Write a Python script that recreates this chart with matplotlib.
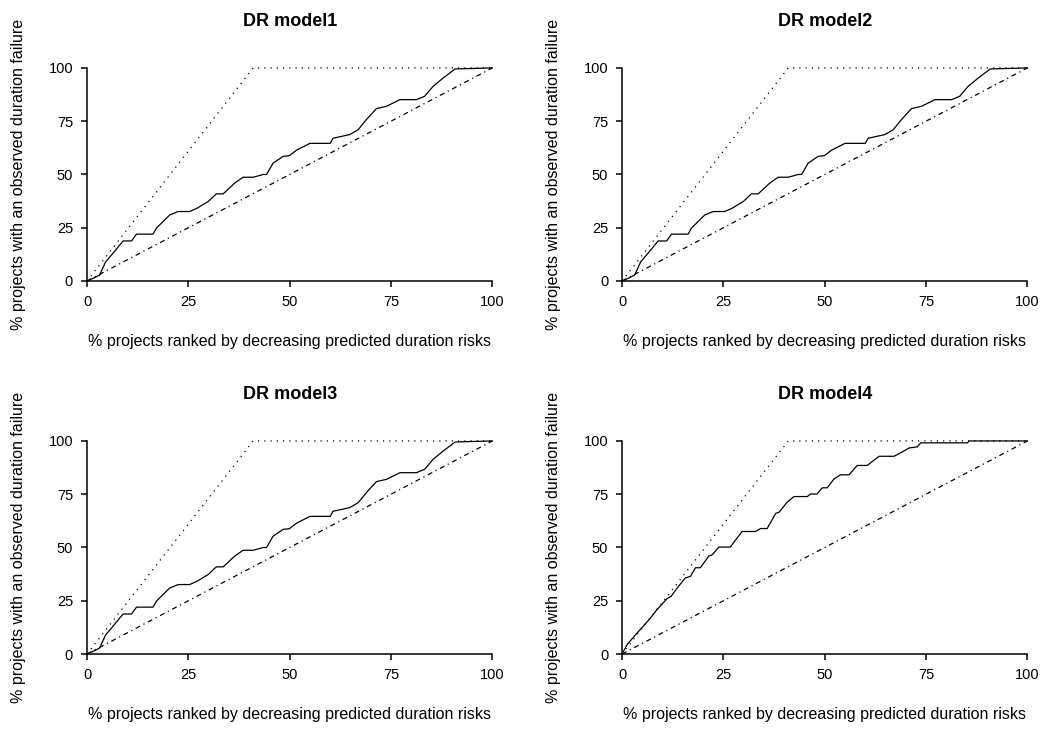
import matplotlib
matplotlib.use("Agg")
import matplotlib.pyplot as plt

plt.rcParams['font.family'] = ['Liberation Sans', 'DejaVu Sans']

titles = ["DR model1", "DR model2", "DR model3", "DR model4"]
xlabel = "% projects ranked by decreasing predicted duration risks"
ylabel = "% projects with an observed duration failure"
ticks = [0, 25, 50, 75, 100]

# perfect model line (dotted) and random line (dash-dot)
perfect_x = [0, 41, 100]
perfect_y = [0, 100, 100]
random_x = [0, 100]
random_y = [0, 100]

# observed curve, models 1-3 (nearly identical)
m1_x = [0, 1.9, 3.1, 4.6, 6.4, 8.9, 11, 12.2, 16.3, 17.1, 19.2, 20.4, 22.5, 25.3,
        27, 29.9, 31.9, 33.6, 36.4, 38.5, 41, 43.5, 44.3, 45.9, 48.4, 49.9, 51.7,
        55, 60, 60.7, 62.4, 64.8, 66.9, 68.9, 71.4, 73.9, 77.2, 81.3, 83.3, 85.4,
        87.9, 90.8, 100]
m1_y = [0, 1.6, 2.8, 9, 13, 18.8, 18.8, 22, 22, 24.8, 28.7, 31, 32.6, 32.6,
        34, 37.3, 40.9, 40.9, 45.9, 48.7, 48.7, 50, 50, 55.3, 58.5, 58.8, 61.4,
        64.6, 64.6, 67, 67.7, 68.7, 71, 75.7, 80.9, 82, 85.1, 85.1, 86.7, 91.4,
        95.3, 99.5, 100]

# observed curve, model 4
m4_x = [0, 1.2, 3.3, 4.9, 7, 8.6, 11.1, 12.1, 13.6, 15.6, 16.9, 18.1, 19.3, 21.4,
        22.2, 23.9, 26.7, 29.6, 32.9, 34.2, 35.8, 37.9, 38.7, 40.7, 42.4, 45.7,
        46.5, 48.1, 49.4, 50.6, 52.3, 53.9, 56, 58, 60.5, 63.4, 67.1, 69.1, 70.8,
        72.8, 73.7, 85.2, 85.6, 100]
m4_y = [0, 4.3, 9, 12.4, 16.9, 20.8, 26, 27.1, 31, 35.7, 36.5, 40.5, 40.5, 46,
        46.5, 50.2, 50.2, 57.5, 57.5, 58.9, 58.9, 66, 66.5, 71.2, 73.9, 73.9,
        75.1, 75.1, 78, 78, 82.2, 84.1, 84.1, 88.5, 88.5, 92.8, 92.8, 94.8, 96.7,
        97.2, 99.1, 99.1, 100, 100]

curves = [(m1_x, m1_y), (m1_x, m1_y), (m1_x, m1_y), (m4_x, m4_y)]

fig = plt.figure(figsize=(10.42, 7.31), dpi=100)
lefts = [0.0835, 0.597, 0.0835, 0.597]
bottoms = [0.6156, 0.6156, 0.1053, 0.1053]

for i in range(4):
    ax = fig.add_axes([lefts[i], bottoms[i], 0.389, 0.2915])
    cx, cy = curves[i]
    ax.plot(perfect_x, perfect_y, color='black', lw=0.9, linestyle=(0, (1, 4)), clip_on=False)
    ax.plot(random_x, random_y, color='black', lw=0.9, linestyle=(0, (4, 3, 1, 3)), clip_on=False)
    ax.plot(cx, cy, color='black', lw=0.9, clip_on=False)
    ax.set_xlim(0, 100)
    ax.set_ylim(0, 100)
    ax.set_xticks(ticks)
    ax.set_yticks(ticks)
    ax.spines['top'].set_visible(False)
    ax.spines['right'].set_visible(False)
    ax.spines['left'].set_linewidth(1.1)
    ax.spines['bottom'].set_linewidth(1.1)
    ax.tick_params(direction='out', length=4, width=1.1, labelsize=10.5, pad=6)
    ax.set_title(titles[i], fontsize=13, fontweight='bold', pad=30)
    ax.set_xlabel(xlabel, fontsize=11.5, labelpad=18)
    ax.set_ylabel(ylabel, fontsize=11.5, labelpad=16)

fig.savefig("out.png", dpi=100)
